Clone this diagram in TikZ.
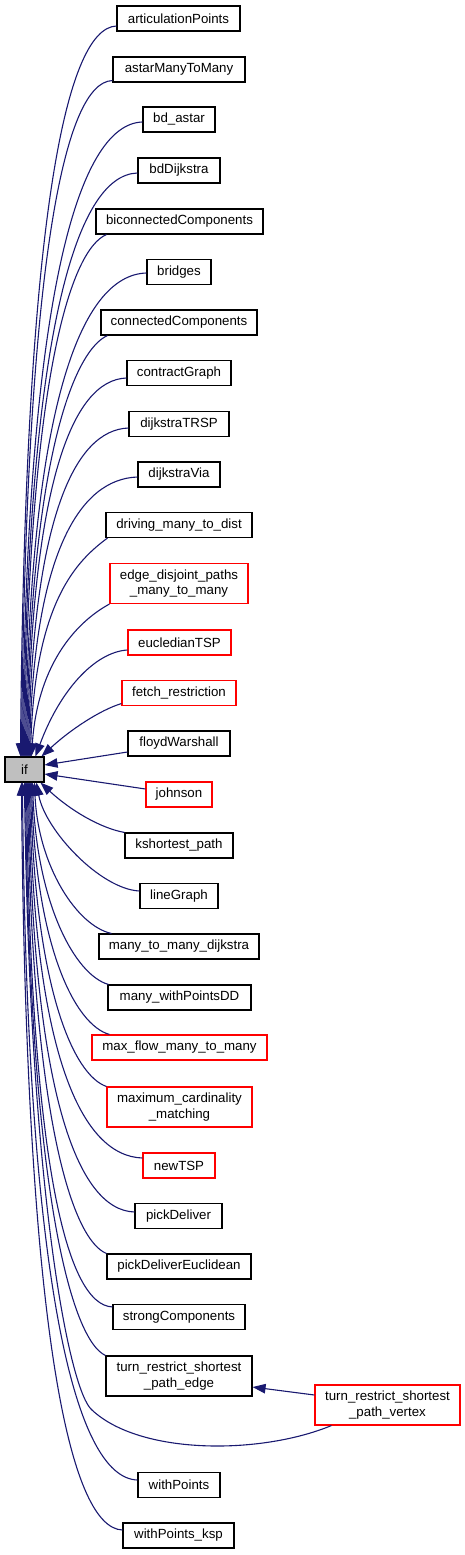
\documentclass[tikz,border=0pt]{standalone}
\usepackage{fontspec}
\setmainfont{Liberation Sans}
\usetikzlibrary{arrows.meta}
\definecolor{edgeblue}{RGB}{25,25,112}
\definecolor{nodered}{RGB}{255,0,0}
\definecolor{ifgray}{RGB}{191,191,191}
\tikzset{
  fn/.style={draw=black, line width=1.1bp, minimum height=25bp, inner xsep=2bp, inner ysep=0bp,
    font=\fontsize{13.33}{15.5}\selectfont, align=center, fill=white},
  fnred/.style={fn, draw=nodered},
  tall/.style={minimum height=40bp},
  edge/.style={draw=edgeblue, line width=1.1bp, -{Triangle[length=13bp,width=9.5bp]}},
}
\begin{document}
\begin{tikzpicture}[x=1bp,y=-1bp]
\useasboundingbox (0,0) rectangle (465,1555);
% nodes
\node[fn, fill=ifgray, minimum width=39bp] (if) at (24.5,769.5) {if};
\node[fn, minimum width=123bp] (art) at (178.5,18.5) {articulationPoints};
\node[fn, minimum width=132bp] (astar) at (179,69.5) {astarManyToMany};
\node[fn, minimum width=72bp] (bda) at (179,119.5) {bd\_astar};
\node[fn, minimum width=82bp] (bdd) at (179,170.5) {bdDijkstra};
\node[fn, minimum width=167bp] (bic) at (179.5,221.5) {biconnectedComponents};
\node[fn, minimum width=64bp] (bri) at (179,272) {bridges};
\node[fn, minimum width=156bp] (con) at (179,322.5) {connectedComponents};
\node[fn, minimum width=104bp] (ctr) at (179,373) {contractGraph};
\node[fn, minimum width=100bp] (dtr) at (179,424) {dijkstraTRSP};
\node[fn, minimum width=82bp] (dvi) at (179,474.5) {dijkstraVia};
\node[fn, minimum width=146bp] (drv) at (179,525) {driving\_many\_to\_dist};
\node[fnred, tall, minimum width=138bp] (edp) at (179,583.5) {edge\_disjoint\_paths\\\_many\_to\_many};
\node[fnred, minimum width=103bp] (euc) at (179.5,642.5) {eucledianTSP};
\node[fnred, minimum width=114bp] (fet) at (179,693) {fetch\_restriction};
\node[fn, minimum width=102bp] (flo) at (179,743.5) {floydWarshall};
\node[fnred, minimum width=66bp] (joh) at (179,794.5) {johnson};
\node[fn, minimum width=108bp] (ksp) at (179,845.5) {kshortest\_path};
\node[fn, minimum width=78bp] (lin) at (179,896) {lineGraph};
\node[fn, minimum width=160bp] (mtm) at (179,946.5) {many\_to\_many\_dijkstra};
\node[fn, minimum width=143bp] (mwp) at (179.5,997.5) {many\_withPointsDD};
\node[fnred, minimum width=175bp] (mfl) at (179.5,1047.5) {max\_flow\_many\_to\_many};
\node[fnred, tall, minimum width=145bp] (mcm) at (179.5,1107) {maximum\_cardinality\\\_matching};
\node[fnred, minimum width=72bp] (ntsp) at (179,1165.5) {newTSP};
\node[fn, minimum width=87bp] (pd) at (178.5,1216) {pickDeliver};
\node[fn, minimum width=144bp] (pde) at (179,1266.5) {pickDeliverEuclidean};
\node[fn, minimum width=132bp] (scc) at (179,1317) {strongComponents};
\node[fn, tall, minimum width=146bp] (tre) at (179,1376) {turn\_restrict\_shortest\\\_path\_edge};
\node[fnred, tall, minimum width=145bp] (trv) at (387.5,1405) {turn\_restrict\_shortest\\\_path\_vertex};
\node[fn, minimum width=82bp] (wp) at (179,1485) {withPoints};
\node[fn, minimum width=111bp] (wpk) at (178.5,1535.5) {withPoints\_ksp};
% edges to top of if
\draw[edge] ([yshift=-7.5bp]art.west) .. controls (64,28) and (25,231) .. ([xshift=16bp]if.north west);
\draw[edge] ([yshift=2bp]astar.south west) .. controls (63,82) and (26,270) .. ([xshift=17bp]if.north west);
\draw[edge] ([yshift=-2.5bp]bda.west) .. controls (77,124) and (27,300) .. ([xshift=18bp]if.north west);
\draw[edge] ([yshift=-2.5bp]bdd.west) .. controls (75,175) and (28,337) .. ([xshift=19bp]if.north west);
\draw[edge] ([xshift=11bp]bic.south west) .. controls (70,250) and (29,380) .. ([xshift=20bp]if.north west);
\draw[edge] ([yshift=-1bp]bri.west) .. controls (80,275) and (30,408) .. ([xshift=21bp]if.north west);
\draw[edge] ([xshift=7bp]con.south west) .. controls (75,350) and (31,453) .. ([xshift=22bp]if.north west);
\draw[edge] ([yshift=-5bp]ctr.west) .. controls (72,380) and (32,484) .. ([xshift=23bp]if.north west);
\draw[edge] ([yshift=-4bp]dtr.west) .. controls (74,430) and (33,520) .. ([xshift=24bp]if.north west);
\draw[edge] ([yshift=-2.5bp]dvi.west) .. controls (79,479) and (34,555) .. ([xshift=25bp]if.north west);
\draw[edge] ([xshift=2bp]drv.south west) .. controls (78,560) and (35,600) .. ([xshift=26bp]if.north west);
\draw[edge] (edp.south west) .. controls (80,620) and (38,660) .. ([xshift=27bp]if.north west);
\draw[edge] ([yshift=-7.5bp]euc.west) .. controls (95,652) and (60,690) .. ([xshift=31bp]if.north west);
\draw[edge] ([yshift=2.5bp]fet.south west) .. controls (100,710) and (70,730) .. ([xshift=37bp]if.north west);
% straight edges to right side
\draw[edge] ([yshift=-8.5bp]flo.west) -- ([yshift=4.5bp]if.east);
\draw[edge] ([yshift=5.5bp]joh.west) -- ([yshift=-4.5bp]if.east);
% edges to bottom of if
\draw[edge] (ksp.north west) .. controls (100,828) and (70,810) .. ([xshift=36bp]if.south west);
\draw[edge] ([yshift=5bp]lin.west) .. controls (100,889) and (45,830) .. ([xshift=32bp]if.south west);
\draw[edge] ([xshift=13bp]mtm.north west) .. controls (77,926) and (38,866) .. ([xshift=30bp]if.south west);
\draw[edge] ([xshift=1bp]mwp.north west) .. controls (75,975) and (37,904) .. ([xshift=28bp]if.south west);
\draw[edge] ([xshift=18bp]mfl.north west) .. controls (75,1025) and (36,947) .. ([xshift=27bp]if.south west);
\draw[edge] (mcm.north west) .. controls (73,1075) and (35,987) .. ([xshift=26bp]if.south west);
\draw[edge] ([yshift=7.5bp]ntsp.west) .. controls (81,1156) and (34,1053) .. ([xshift=25bp]if.south west);
\draw[edge] ([yshift=4bp]pd.west) .. controls (77,1210) and (33,1092) .. ([xshift=24bp]if.south west);
\draw[edge] (pde.north west) .. controls (73,1240) and (32,1122) .. ([xshift=23bp]if.south west);
\draw[edge] ([yshift=-3bp]scc.north west) .. controls (66,1305) and (31,1160) .. ([xshift=22bp]if.south west);
\draw[edge] (tre.north west) .. controls (72,1340) and (30,1196) .. ([xshift=21bp]if.south west);
\draw[edge] ([xshift=17bp]trv.south west) .. controls (260,1455) and (140,1455) .. (92,1410)
  .. controls (70,1392) and (30,1200) .. ([xshift=20bp]if.south west);
\draw[edge] ([yshift=5bp]wp.west) .. controls (75,1478) and (27,1285) .. ([xshift=18bp]if.south west);
\draw[edge] ([yshift=5.5bp]wpk.west) .. controls (68,1528) and (26,1321) .. ([xshift=17bp]if.south west);
% trv -> tre
\draw[edge] ([yshift=10bp]trv.west) -- ([yshift=-11bp]tre.east);
\end{tikzpicture}
\end{document}
